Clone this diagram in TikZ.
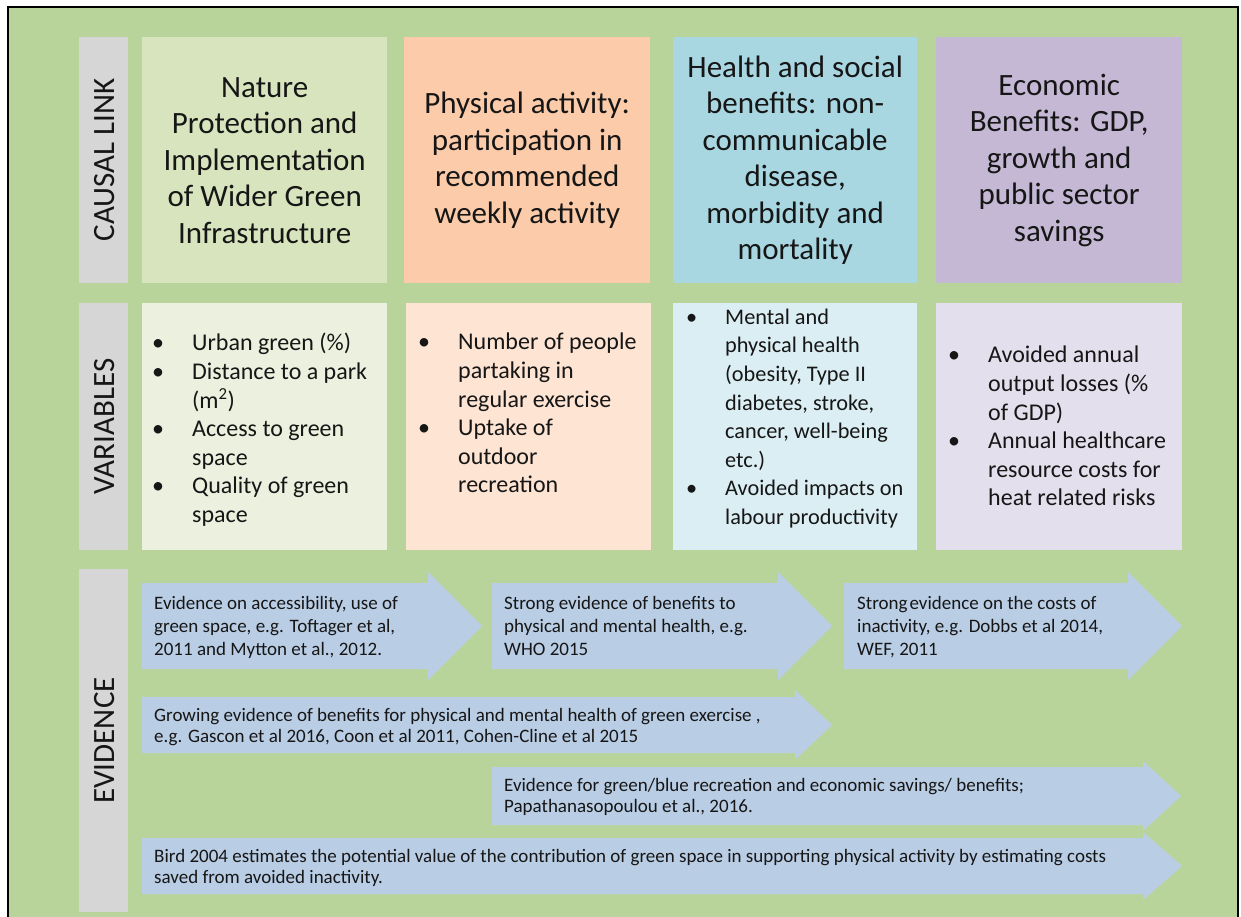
\documentclass[tikz,border=0pt]{standalone}
\usepackage{fontspec}
\setmainfont{Carlito}
\definecolor{bggreen}{RGB}{185,212,155}
\definecolor{barGray}{RGB}{214,214,214}
\definecolor{cGreen}{RGB}{215,228,189}
\definecolor{cOrange}{RGB}{251,203,170}
\definecolor{cBlue}{RGB}{168,215,226}
\definecolor{cPurple}{RGB}{196,184,212}
\definecolor{vGreen}{RGB}{235,241,222}
\definecolor{vOrange}{RGB}{253,228,211}
\definecolor{vBlue}{RGB}{219,238,243}
\definecolor{vPurple}{RGB}{228,223,236}
\definecolor{arrowBlue}{RGB}{185,205,229}
\definecolor{txt}{RGB}{22,22,22}
\newcommand\fst{\rule{0pt}{0.85em}}
\newcommand\bl{\makebox[40pt][l]{•}}
\newcommand\ct{\hspace*{40pt}}
\begin{document}
\begin{tikzpicture}[x=1pt,y=-1pt,
  panel/.style={rectangle, inner sep=0pt, anchor=north west, draw=none},
  causaltext/.style={align=center, text=txt, font=\fontsize{31}{36.5}\selectfont},
  vartext/.style={align=left, anchor=north west, inner sep=0pt, text=txt, font=\fontsize{24}{28.6}\selectfont},
  evtext/.style={align=left, anchor=north west, inner sep=0pt, text=txt, font=\fontsize{19}{23}\selectfont},
  evtextw/.style={align=left, anchor=north west, inner sep=0pt, text=txt, font=\fontsize{19}{21}\selectfont},
  rowlabel/.style={rotate=90, inner sep=0pt, text=txt, font=\fontsize{31}{36}\selectfont},
  evarrow/.style={fill=arrowBlue}]
\useasboundingbox (0,0) rectangle (1241,917);
\fill[white] (0,0) rectangle (1241,917);
\fill[bggreen] (8,7) rectangle (1238,917);
\draw[line width=2pt] (8,917) -- (8,7) -- (1238,7) -- (1238,917);

% gray row-label bars
\node[panel, fill=barGray, minimum width=49, minimum height=246] (barC) at (79,37) {};
\node[panel, fill=barGray, minimum width=49, minimum height=247] (barV) at (79,303) {};
\node[panel, fill=barGray, minimum width=49, minimum height=343] (barE) at (79,569) {};
\node[rowlabel] (labC) at (104.5,160) {CAUSAL LINK};
\node[rowlabel] (labV) at (104.5,426.5) {VARIABLES};
\node[rowlabel] (labE) at (104.5,740.5) {EVIDENCE};

% causal link row
\node[panel, fill=cGreen, minimum width=245, minimum height=246] (cG) at (142,37) {};
\node[panel, fill=cOrange, minimum width=246, minimum height=246] (cO) at (404,37) {};
\node[panel, fill=cBlue, minimum width=244, minimum height=246] (cB) at (673,37) {};
\node[panel, fill=cPurple, minimum width=246, minimum height=246] (cP) at (936,37) {};
\node[causaltext] (tG) at (cG.center) {Nature\\Protection and\\Implementation\\of Wider Green\\Infrastructure};
\node[causaltext] (tO) at (cO.center) {Physical activity:\\participation in\\recommended\\weekly activity};
\node[causaltext] (tB) at (cB.center) {Health and social\\benefits: non-\\communicable\\disease,\\morbidity and\\mortality};
\node[causaltext] (tP) at (cP.center) {Economic\\Benefits: GDP,\\growth and\\public sector\\savings};

% variables row
\node[panel, fill=vGreen, minimum width=245, minimum height=247] (vG) at (142,303) {};
\node[panel, fill=vOrange, minimum width=245, minimum height=247] (vO) at (406,303) {};
\node[panel, fill=vBlue, minimum width=244, minimum height=247] (vB) at (673,303) {};
\node[panel, fill=vPurple, minimum width=246, minimum height=247] (vP) at (936,303) {};
\node[vartext] (xG) at (152,330.3) {\fst\bl Urban green (\%)\\\bl Distance to a park\\\ct (m\textsuperscript{2})\\\bl Access to green\\\ct space\\\bl Quality of green\\\ct space};
\node[vartext] (xO) at (418,329.3) {\fst\bl Number of people\\\ct partaking in\\\ct regular exercise\\\bl Uptake of\\\ct outdoor\\\ct recreation};
\node[vartext, font=\fontsize{22.3}{28.6}\selectfont] (xB) at (686,305.2) {\fst\makebox[39pt][l]{•}Mental and\\\hspace*{39pt}physical health\\\hspace*{39pt}(obesity, Type II\\\hspace*{39pt}diabetes, stroke,\\\hspace*{39pt}cancer, well-being\\\hspace*{39pt}etc.)\\\makebox[39pt][l]{•}Avoided impacts on\\\hspace*{39pt}labour productivity};
\node[vartext] (xP) at (948,342.3) {\fst\bl Avoided annual\\\ct output losses (\%\\\ct of GDP)\\\bl Annual healthcare\\\ct resource costs for\\\ct heat related risks};

% evidence arrows
\fill[evarrow] (142,583) -- (428,583) -- (428,572) -- (482,626) -- (428,680) -- (428,669) -- (142,669) -- cycle;
\fill[evarrow] (492,583) -- (778,583) -- (778,572) -- (832,626) -- (778,680) -- (778,669) -- (492,669) -- cycle;
\fill[evarrow] (844,583) -- (1128,583) -- (1128,572) -- (1182,626) -- (1128,680) -- (1128,669) -- (844,669) -- cycle;
\fill[evarrow] (142,697) -- (795,697) -- (795,690) -- (832,725) -- (795,760) -- (795,753) -- (142,753) -- cycle;
\fill[evarrow] (492,767) -- (1143,767) -- (1143,761) -- (1181,796) -- (1143,831) -- (1143,825) -- (492,825) -- cycle;
\fill[evarrow] (142,838) -- (1143,838) -- (1143,832) -- (1182,866) -- (1143,900) -- (1143,894) -- (142,894) -- cycle;

\node[evtext] (e1) at (154,593) {\fst Evidence on accessibility, use of\\green space, e.g. Toftager et al,\\2011 and Mytton et al., 2012.};
\node[evtext] (e2) at (504,593) {\fst Strong evidence of benefits to\\physical and mental health, e.g.\\WHO 2015};
\node[evtext] (e3) at (857,593) {\fst Strong\kern2pt evidence on the costs of\\inactivity, e.g. Dobbs et al 2014,\\WEF, 2011};
\node[evtextw] (e4) at (154,705) {\fst Growing evidence of benefits for physical and mental health of green exercise ,\\e.g. Gascon et al 2016, Coon et al 2011, Cohen-Cline et al 2015};
\node[evtextw] (e5) at (504,775) {\fst Evidence for green/blue recreation and economic savings/ benefits;\\Papathanasopoulou et al., 2016.};
\node[evtextw] (e6) at (154,846) {\fst Bird 2004 estimates the potential value of the contribution of green space in supporting physical activity by estimating costs\\saved from avoided inactivity.};
\end{tikzpicture}
\end{document}
